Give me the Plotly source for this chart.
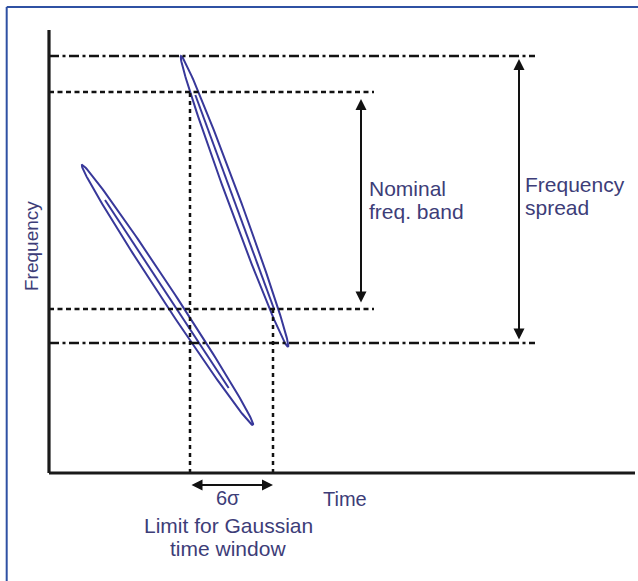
import numpy as np
import plotly.graph_objects as go

# ---- data (time / frequency units, origin at the axes corner) ----
time_axis_end = 586
freq_axis_end = 443

spread_levels = [417, 130]          # frequency spread (dash-dot)
spread_line_end = 486
nominal_levels = [381, 164]         # nominal frequency band (dotted)
nominal_line_end = 325
window_times = [141, 224]           # 6 sigma Gaussian time-window limits

chirp_left_tips = [(33, 308), (204, 48)]
chirp_left_inner = [273, 85]        # freq range of inner line
chirp_right_tips = [(132, 417), (239, 126)]
chirp_right_inner = [378, 163]
chirp_halfwidth = [6.5, 6.0]

nominal_arrow = dict(t=312, f=[374, 169])
spread_arrow = dict(t=470, f=[414, 132])
sigma_arrow = dict(f=-12, t=[141, 224])

TEXT_COL = "#3d3d78"
CHIRP_COL = "#38389a"
LINE_COL = "#121212"
FONT = "Liberation Sans, Arial, sans-serif"

fig = go.Figure()


def ellipse(tips, hw):
    (x1, y1), (x2, y2) = tips
    cx, cy = (x1 + x2) / 2, (y1 + y2) / 2
    a = np.hypot(x2 - x1, y2 - y1) / 2
    ang = np.arctan2(y2 - y1, x2 - x1)
    th = np.linspace(0, 2 * np.pi, 200)
    ex = a * np.cos(th)
    ey = hw * np.sin(th)
    return (cx + ex * np.cos(ang) - ey * np.sin(ang),
            cy + ex * np.sin(ang) + ey * np.cos(ang))


def inner(tips, frange):
    (x1, y1), (x2, y2) = tips
    xs = [x1 + (f - y1) / (y2 - y1) * (x2 - x1) for f in frange]
    return xs, frange


for tips, fr, hw in [(chirp_left_tips, chirp_left_inner, chirp_halfwidth[0]),
                     (chirp_right_tips, chirp_right_inner, chirp_halfwidth[1])]:
    ex, ey = ellipse(tips, hw)
    fig.add_trace(go.Scatter(x=ex, y=ey, mode="lines",
                             line=dict(color=CHIRP_COL, width=2), hoverinfo="skip"))
    ix, iy = inner(tips, fr)
    fig.add_trace(go.Scatter(x=ix, y=iy, mode="lines",
                             line=dict(color=CHIRP_COL, width=2), hoverinfo="skip"))

# reference lines
for f in spread_levels:
    fig.add_shape(type="line", x0=0, x1=spread_line_end, y0=f, y1=f,
                  line=dict(color=LINE_COL, width=2.5, dash="10px,3.5px,3px,3.5px"))
for f in nominal_levels:
    fig.add_shape(type="line", x0=0, x1=nominal_line_end, y0=f, y1=f,
                  line=dict(color=LINE_COL, width=2.5, dash="5px,3.5px"))
fig.add_shape(type="line", x0=window_times[0], x1=window_times[0], y0=0, y1=nominal_levels[0],
              line=dict(color=LINE_COL, width=2.5, dash="4px,4px"))
fig.add_shape(type="line", x0=window_times[1], x1=window_times[1], y0=0, y1=nominal_levels[1],
              line=dict(color=LINE_COL, width=2.5, dash="4px,4px"))

# axes
fig.add_shape(type="line", x0=0, x1=time_axis_end, y0=0, y1=0,
              line=dict(color="#1a1a1a", width=3.2))
fig.add_shape(type="line", x0=0, x1=0, y0=0, y1=freq_axis_end,
              line=dict(color="#1a1a1a", width=3.2))

# frame (top and left)
fig.add_shape(type="line", xref="paper", yref="paper", x0=0.0105, x1=1, y0=0.988, y1=0.988,
              line=dict(color="#2f51a3", width=2))
fig.add_shape(type="line", xref="paper", yref="paper", x0=0.0105, x1=0.0105, y0=0, y1=0.988,
              line=dict(color="#2f51a3", width=2))

# arrows
def arrow(x0, y0, x1, y1):
    fig.add_annotation(x=x1, y=y1, ax=x0, ay=y0, xref="x", yref="y", axref="x", ayref="y",
                       text="", showarrow=True, arrowhead=2, startarrowhead=2,
                       arrowside="end+start", arrowsize=1.1, startarrowsize=1.1,
                       arrowwidth=2, arrowcolor=LINE_COL)

arrow(nominal_arrow["t"], nominal_arrow["f"][1], nominal_arrow["t"], nominal_arrow["f"][0])
arrow(spread_arrow["t"], spread_arrow["f"][1], spread_arrow["t"], spread_arrow["f"][0])
arrow(sigma_arrow["t"][0], sigma_arrow["f"], sigma_arrow["t"][1], sigma_arrow["f"])

# text
def txt(x, y, s, size=21, xanchor="left", angle=0):
    fig.add_annotation(x=x, y=y, xref="x", yref="y", text=s, showarrow=False,
                       xanchor=xanchor, yanchor="middle", textangle=angle,
                       font=dict(family=FONT, size=size, color=TEXT_COL))

txt(318, 285, "Nominal")
txt(318, 262, "freq. band")
txt(474, 289, "Frequency")
txt(474, 266, "spread")
txt(272, -26, "Time", size=20)
txt(179, -25, "6σ", size=20, xanchor="center")
txt(179, -52, "Limit for Gaussian", xanchor="center")
txt(179, -75, "time window", xanchor="center")
txt(-18, 227, "Frequency", size=19, xanchor="center", angle=-90)

fig.update_layout(
    width=638, height=581, margin=dict(l=0, r=0, t=0, b=0),
    paper_bgcolor="white", plot_bgcolor="white", showlegend=False,
    xaxis=dict(range=[-49, 589], visible=False, fixedrange=True),
    yaxis=dict(range=[-108, 473], visible=False, fixedrange=True),
)

fig.write_html("out.html", config={"displayModeBar": False},
               post_script="document.body.style.margin='0';")
